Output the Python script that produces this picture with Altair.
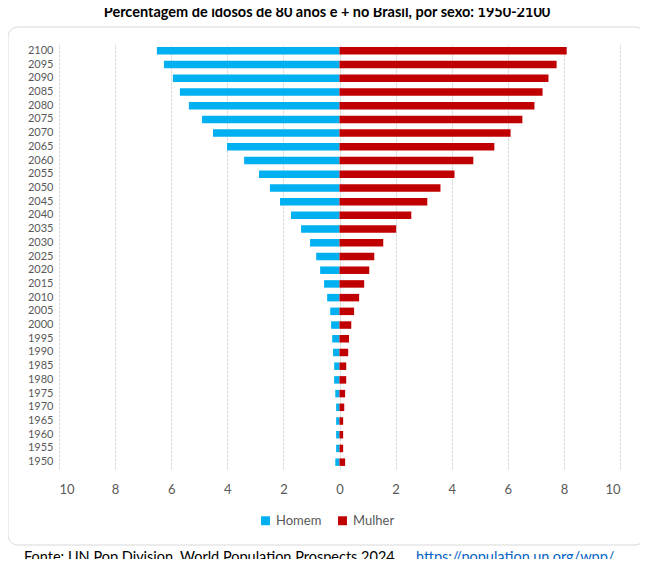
import altair as alt
import pandas as pd

years = list(range(2100, 1945, -5))
homem = [6.51, 6.26, 5.94, 5.69, 5.37, 4.90, 4.51, 4.01, 3.40, 2.87, 2.48, 2.12, 1.73, 1.37, 1.05, 0.83,
         0.69, 0.55, 0.44, 0.33, 0.30, 0.26, 0.23, 0.19, 0.19, 0.15, 0.12, 0.12, 0.12, 0.12, 0.15]
mulher = [8.10, 7.74, 7.45, 7.24, 6.95, 6.52, 6.10, 5.52, 4.77, 4.10, 3.60, 3.13, 2.56, 2.02, 1.56, 1.24,
          1.06, 0.88, 0.70, 0.52, 0.42, 0.34, 0.31, 0.24, 0.24, 0.20, 0.17, 0.13, 0.13, 0.13, 0.20]

rows = []
for y, h, m in zip(years, homem, mulher):
    rows.append({"ano": str(y), "sexo": "Homem", "v": -h})
    rows.append({"ano": str(y), "sexo": "Mulher", "v": m})
df = pd.DataFrame(rows)
order = [str(y) for y in years]
FONT = "Lato"

bars = alt.Chart(df).mark_bar(size=7.5).encode(
    y=alt.Y("ano:N", sort=order, title=None,
            axis=alt.Axis(domain=False, ticks=False, labelFontSize=11, labelColor="#595959",
                          labelPadding=6, labelFont=FONT)),
    x=alt.X("v:Q", title=None, scale=alt.Scale(domain=[-10, 10], nice=False),
            axis=alt.Axis(values=list(range(-10, 11, 2)), labelExpr="abs(datum.value)",
                          domain=False, ticks=False, grid=True, gridColor="#d9d9d9",
                          gridDash=[3, 1], labelFontSize=13, labelColor="#595959",
                          labelPadding=14, labelFont=FONT)),
    color=alt.Color("sexo:N", scale=alt.Scale(domain=["Homem", "Mulher"], range=["#00b0f0", "#c00000"]),
                    legend=alt.Legend(title=None, orient="none", legendX=200, legendY=470,
                                      direction="horizontal", symbolType="square", symbolSize=80,
                                      labelFontSize=13, labelColor="#595959", labelFont=FONT,
                                      columnPadding=14)),
)

box = alt.Chart(pd.DataFrame({"a": [0]})).mark_rect(
    fill=None, stroke="#d9d9d9", cornerRadius=10, strokeWidth=1
).encode(x=alt.value(-51), x2=alt.value(586), y=alt.value(-17), y2=alt.value(501))

title = alt.Chart(pd.DataFrame({"t": ["Percentagem de idosos de 80 anos e + no Brasil, por sexo: 1950-2100"]})).mark_text(
    align="center", baseline="middle", fontSize=14.5, font=FONT, fontWeight="bold", color="black"
).encode(text="t:N", x=alt.value(268), y=alt.value(-31))
foot1 = alt.Chart(pd.DataFrame({"t": ["Fonte: UN Pop Division, World Population Prospects 2024"]})).mark_text(
    align="left", baseline="middle", fontSize=14.5, font=FONT, color="black"
).encode(text="t:N", x=alt.value(-35), y=alt.value(514))
foot2 = alt.Chart(pd.DataFrame({"t": ["https://population.un.org/wpp/"]})).mark_text(
    align="left", baseline="middle", fontSize=14.5, font=FONT, color="#0563c1"
).encode(text="t:N", x=alt.value(357), y=alt.value(514))
ul = alt.Chart(pd.DataFrame({"a": [0]})).mark_rule(color="#0563c1").encode(
    x=alt.value(357), x2=alt.value(573), y=alt.value(522))

chart = alt.layer(box, bars, title, foot1, foot2, ul).properties(
    width=561, height=425, padding={"left": 51, "top": 36, "right": 20, "bottom": 90},
    autosize="none",
).configure_view(stroke=None)

chart.save("out.html", embed_options={"renderer": "svg", "actions": False})
